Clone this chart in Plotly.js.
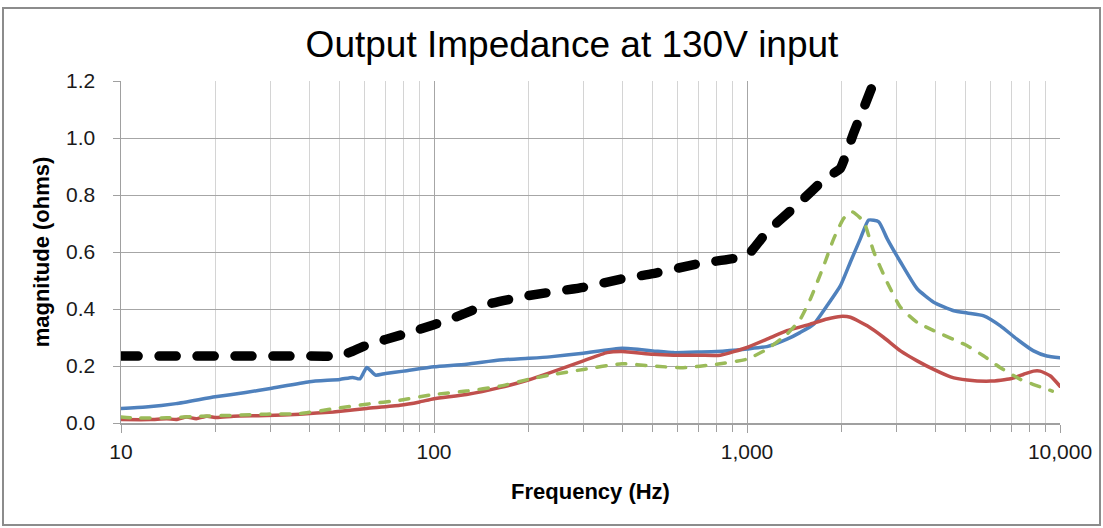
<!DOCTYPE html>
<html>
<head>
<meta charset="utf-8">
<script src="https://cdn.plot.ly/plotly-3.0.1.min.js"></script>
<style>
html,body{margin:0;padding:0;background:#fff;}
#chart{width:1103px;height:528px;}
.scatterlayer .js-line{stroke-linecap:round !important;}
</style>
</head>
<body>
<div id="chart"></div>
<script>
// Frequencies (Hz) and magnitudes (ohms)
const blackF = [10, 20, 30, 40, 50, 53, 60, 70, 85, 100, 115, 150, 200, 300, 400, 500, 700, 1000, 1159, 1445, 1759, 1989, 2088, 2192, 2361, 2541, 2700];
const blackZ = [0.235, 0.235, 0.235, 0.235, 0.235, 0.245, 0.27, 0.293, 0.32, 0.345, 0.368, 0.418, 0.447, 0.476, 0.506, 0.524, 0.559, 0.588, 0.671, 0.765, 0.853, 0.894, 0.953, 1.018, 1.106, 1.194, 1.26];

const blueF = [10, 12, 15, 20, 25, 30, 40, 50, 55, 58, 61, 65, 70, 80, 100, 127, 162, 200, 234, 300, 399, 500, 582, 707, 800, 1000, 1158, 1342, 1481, 1634, 1803, 1989, 2140, 2303, 2448, 2636, 2803, 3093, 3496, 3948, 4579, 5053, 5709, 6450, 7289, 8233, 9073, 10000];
const blueZ = [0.051, 0.056, 0.068, 0.092, 0.107, 0.121, 0.145, 0.153, 0.16, 0.155, 0.195, 0.168, 0.174, 0.182, 0.197, 0.206, 0.221, 0.227, 0.232, 0.245, 0.262, 0.253, 0.247, 0.249, 0.251, 0.26, 0.268, 0.294, 0.318, 0.347, 0.412, 0.482, 0.565, 0.647, 0.712, 0.706, 0.647, 0.565, 0.471, 0.424, 0.394, 0.386, 0.376, 0.341, 0.294, 0.253, 0.235, 0.229];

const redF = [10, 12.4, 14, 15, 16.2, 17.4, 18.8, 20.2, 22.9, 29.2, 37.3, 47.7, 60.9, 77.8, 90, 100, 127, 162, 200, 234, 300, 357, 399, 500, 582, 707, 822, 1000, 1158, 1342, 1594, 1803, 1989, 2140, 2422, 2735, 3093, 3496, 3948, 4470, 5053, 6000, 6950, 7660, 8233, 8640, 9322, 10000];
const redZ = [0.012, 0.012, 0.015, 0.012, 0.021, 0.015, 0.024, 0.019, 0.024, 0.026, 0.031, 0.039, 0.051, 0.062, 0.074, 0.085, 0.1, 0.124, 0.151, 0.176, 0.218, 0.247, 0.251, 0.241, 0.238, 0.238, 0.238, 0.265, 0.294, 0.324, 0.347, 0.365, 0.374, 0.371, 0.341, 0.30, 0.253, 0.218, 0.188, 0.162, 0.151, 0.147, 0.155, 0.171, 0.182, 0.182, 0.165, 0.129];

const greenF = [10, 10.9, 14, 17.9, 22.8, 29.2, 37.3, 47.7, 60.9, 77.8, 100, 127, 162, 200, 234, 300, 399, 500, 625, 800, 1000, 1158, 1342, 1481, 1594, 1760, 1893, 2037, 2166, 2360, 2542, 2803, 3093, 3496, 3948, 5053, 5709, 6450, 7470, 8233, 9450];
const greenZ = [0.021, 0.018, 0.018, 0.024, 0.027, 0.031, 0.033, 0.05, 0.066, 0.08, 0.10, 0.112, 0.129, 0.153, 0.168, 0.188, 0.208, 0.2, 0.194, 0.206, 0.224, 0.259, 0.312, 0.365, 0.435, 0.553, 0.647, 0.718, 0.741, 0.706, 0.60, 0.494, 0.406, 0.353, 0.324, 0.271, 0.235, 0.194, 0.153, 0.135, 0.112];

const xTickVals = [10, 100, 1000, 10000];
const xTickText = ['10', '100', '1,000', '10,000'];
const yTickVals = [0, 0.2, 0.4, 0.6, 0.8, 1.0, 1.2];
const yTickText = ['0.0', '0.2', '0.4', '0.6', '0.8', '1.0', '1.2'];

const traces = [
  {x: blueF, y: blueZ, mode: 'lines', line: {color: '#4F81BD', width: 3.5, shape: 'spline', smoothing: 0.5}},
  {x: redF, y: redZ, mode: 'lines', line: {color: '#C0504D', width: 3.5, shape: 'spline', smoothing: 0.5}},
  {x: greenF, y: greenZ, mode: 'lines', line: {color: '#9BBB59', width: 3.5, shape: 'spline', smoothing: 0.5, dash: '9px,11px'}},
  {x: blackF, y: blackZ, mode: 'lines', line: {color: '#000000', width: 9.5, shape: 'spline', smoothing: 0.4, dash: '17px,21px'}}
];

const W = 1103, H = 528, L = 121, R = 43, T = 81, B = 105;
const pw = W - L - R, ph = H - T - B;
const px = v => (v - L) / pw;
const py = v => (H - B - v) / ph;

const tickFont = {family: 'Liberation Sans, Arial, sans-serif', size: 21, color: '#1a1a1a'};
const titleFont = {family: 'Liberation Sans, Arial, sans-serif', size: 22, color: '#000000'};
const layout = {
  width: W, height: H,
  margin: {l: L, r: R, t: T, b: B},
  paper_bgcolor: '#ffffff', plot_bgcolor: '#ffffff',
  showlegend: false,
  title: {text: 'Output Impedance at 130V input', x: 572 / W, xref: 'container', xanchor: 'center',
          y: 1 - 44 / H, yref: 'container', yanchor: 'middle',
          font: {family: 'Liberation Sans, Arial, sans-serif', size: 37, color: '#000000'}},
  xaxis: {
    type: 'log', range: [1, 4], fixedrange: true,
    tickvals: xTickVals, ticktext: xTickText,
    ticks: 'outside', ticklen: 8, tickcolor: '#a0a0a0', tickwidth: 1,
    showgrid: true, gridcolor: '#a6a6a6', gridwidth: 1,
    minor: {dtick: 'D1', ticks: 'outside', ticklen: 7, tickcolor: '#a0a0a0', showgrid: true, gridcolor: '#d4d4d4', gridwidth: 1},
    showline: true, linecolor: '#a0a0a0', linewidth: 1.5, mirror: false,
    zeroline: false, tickfont: tickFont, ticklabelstandoff: 1,
    title: {text: '<b>Frequency (Hz)</b>', standoff: 22, font: titleFont}
  },
  yaxis: {
    range: [0, 1.2], fixedrange: true,
    tickvals: yTickVals, ticktext: yTickText,
    ticks: 'outside', ticklen: 7, tickcolor: '#a0a0a0',
    showgrid: true, gridcolor: '#a6a6a6', gridwidth: 1,
    showline: true, linecolor: '#a0a0a0', linewidth: 1.5,
    zeroline: false, tickfont: tickFont, ticklabelstandoff: 13,
    title: {text: '<b>magnitude (ohms)</b>', standoff: 10, font: titleFont}
  },
  shapes: [
    {type: 'rect', xref: 'paper', yref: 'paper', x0: px(3), x1: px(1100), y0: py(525), y1: py(8),
     line: {color: '#8c8c8c', width: 2}, fillcolor: 'rgba(0,0,0,0)', layer: 'below'}
  ]
};

Plotly.newPlot('chart', traces, layout, {staticPlot: true, displayModeBar: false});
</script>
</body>
</html>
